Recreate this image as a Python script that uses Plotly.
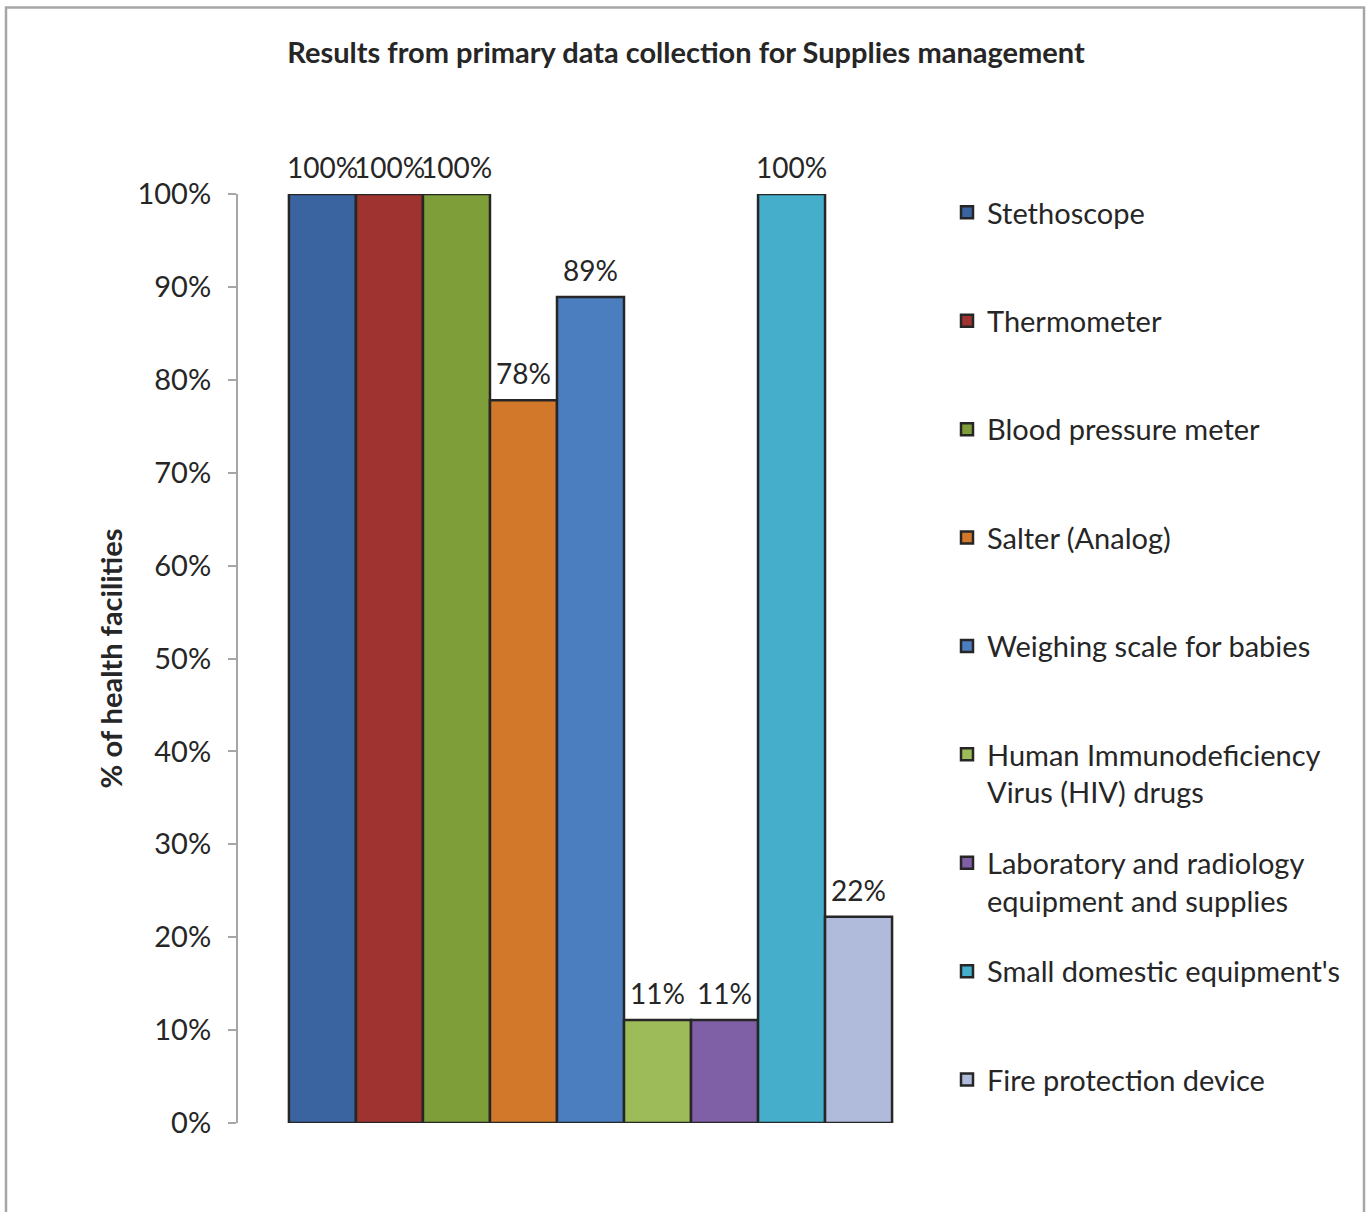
import plotly.graph_objects as go

# ---- data ----
items = ["Stethoscope", "Thermometer", "Blood pressure meter", "Salter (Analog)",
         "Weighing scale for babies",
         "Human Immunodeficiency<br>Virus (HIV) drugs",
         "Laboratory and radiology<br>equipment and supplies",
         "Small domestic equipment's", "Fire protection device"]
values = [1.00, 1.00, 1.00, 0.778, 0.889, 0.111, 0.111, 1.00, 0.222]
colors = ["#3A64A0", "#9E3330", "#7E9E3A", "#D2782A", "#4A7EBF",
          "#9DBB59", "#7F5FA5", "#45AECB", "#B0BBDB"]
y_ticks = [0, 0.1, 0.2, 0.3, 0.4, 0.5, 0.6, 0.7, 0.8, 0.9, 1.0]

W, H = 1372, 1212
L, R, T, B = 238, W - 943, 194, H - 1123
FS = 29

fig = go.Figure()
for i, (name, v, c) in enumerate(zip(items, values, colors)):
    legend_name = name if "<br>" in name else name + "<br> "
    fig.add_trace(go.Bar(
        x=[i], y=[v], width=1, name=legend_name, legendgroup=f"g{i}",
        marker=dict(color=c, line=dict(color="#262626", width=2.5)),
        hoverinfo="skip",
    ))
    fig.add_annotation(x=i, y=v, xref="x", yref="y", text=f"{round(v*100):d}%",
                       showarrow=False, yanchor="bottom", yshift=8,
                       font=dict(family="Lato", size=28, color="#262626"))

fig.update_layout(
    width=W, height=H,
    margin=dict(l=L, r=R, t=T, b=B, autoexpand=False),
    paper_bgcolor="white", plot_bgcolor="white",
    barmode="overlay",
    font=dict(family="Lato", color="#262626"),
    title=dict(text="<b>Results from primary data collection for Supplies management</b>",
               x=0.5, xref="container", xanchor="center",
               y=1 - 53 / H, yref="container", yanchor="middle",
               font=dict(family="Lato", size=FS, color="#262626")),
    showlegend=True,
    legend=dict(x=947 / W, xref="container", xanchor="left",
                y=1 - 187 / H, yref="container", yanchor="top",
                valign="top", tracegroupgap=30, maxheight=1150,
                font=dict(family="Lato", size=FS, color="#262626"),
                bgcolor="rgba(0,0,0,0)"),
    xaxis=dict(range=[-1.26, 9.26], showticklabels=False, showline=False,
               showgrid=False, zeroline=False, ticks=""),
    yaxis=dict(range=[0, 1.0], tickvals=y_ticks, tickformat=".0%",
               showgrid=False, zeroline=False, showline=True,
               linecolor="#A6A6A6", linewidth=2,
               ticks="outside", ticklen=8, tickcolor="#A6A6A6", tickwidth=2,
               ticklabelstandoff=11,
               tickfont=dict(family="Lato", size=FS, color="#262626"),
               title=dict(text="<b>% of health facilities</b>", standoff=6,
                          font=dict(family="Lato", size=FS, color="#262626"))),
)

# outer frame (decorative border)
pw, ph = W - L - R, H - T - B
fig.add_shape(type="rect", xref="paper", yref="paper",
              x0=(6 - L) / pw, x1=(1364 - L) / pw,
              y0=-(H + 20 - (H - B)) / ph, y1=((H - B) - 7.5) / ph,
              line=dict(color="#A6A6A6", width=2.5), fillcolor="rgba(0,0,0,0)",
              layer="below")

fig.write_html("out.html", config={"displayModeBar": False},
               post_script="document.body.style.margin='0';")
